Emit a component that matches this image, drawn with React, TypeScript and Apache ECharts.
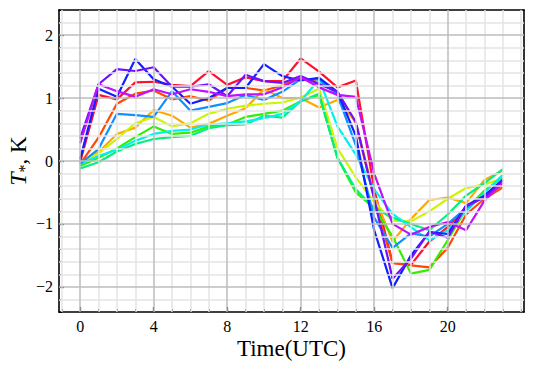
import React, { useEffect, useRef } from "react";
import * as echarts from "echarts";

const hours = Array.from({ length: 24 }, (_, i) => i);

const red = [-0.02, 1.05, 0.98, 1.25, 1.26, 1.21, 1.19, 1.43, 1.21, 1.33, 1.27, 1.27, 1.63, 1.42, 1.17, 1.28, -0.45, -1.62, -1.65, -1.28, -1.05, -0.75, -0.55, -0.38];
const orangeRed = [-0.05, 0.37, 0.91, 1.07, 1.12, 0.98, 1.03, 0.96, 1.16, 1.16, 1.12, 1.2, 1.33, 1.25, 1.1, 0.6, -0.6, -1.62, -1.66, -1.69, -1.38, -0.85, -0.6, -0.42];
const orange = [-0.05, 0.14, 0.43, 0.53, 0.81, 0.72, 0.53, 0.59, 0.72, 0.84, 1.14, 1.0, 1.0, 0.85, 0.97, 0.62, -0.55, -1.28, -0.92, -0.62, -0.58, -0.67, -0.3, -0.15];
const yellowGreen = [-0.03, 0.12, 0.35, 0.6, 0.7, 0.55, 0.6, 0.75, 0.83, 0.88, 0.91, 0.93, 1.01, 1.15, 0.2, -0.26, -0.65, -0.95, -0.96, -0.8, -0.6, -0.43, -0.37, -0.28];
const green = [-0.08, 0.05, 0.2, 0.38, 0.55, 0.43, 0.45, 0.55, 0.58, 0.7, 0.75, 0.8, 0.95, 1.05, 0.05, -0.5, -0.75, -1.2, -1.79, -1.73, -1.26, -0.76, -0.47, -0.26];
const springGreen = [-0.12, -0.02, 0.15, 0.27, 0.35, 0.38, 0.4, 0.52, 0.57, 0.58, 0.72, 0.69, 0.95, 1.07, 0.05, -0.45, -0.75, -0.9, -1.0, -1.1, -0.85, -0.55, -0.35, -0.13];
const cyan = [-0.05, 0.08, 0.18, 0.32, 0.43, 0.48, 0.5, 0.58, 0.6, 0.63, 0.68, 0.75, 0.95, 1.3, 0.55, 0.1, -0.45, -0.84, -1.05, -1.26, -1.1, -0.8, -0.5, -0.22];
const azure = [-0.04, 0.19, 0.75, 0.73, 0.7, 1.11, 0.8, 0.86, 0.92, 1.05, 0.97, 1.1, 1.3, 1.3, 1.05, 0.25, -0.9, -1.38, -1.15, -1.2, -1.0, -0.75, -0.55, -0.3];
const blue = [0.03, 1.15, 1.02, 1.62, 1.3, 1.18, 0.91, 1.0, 1.16, 1.16, 1.54, 1.35, 1.28, 1.32, 1.1, 0.4, -1.1, -2.02, -1.5, -1.13, -1.16, -0.71, -0.55, -0.3];
const violet = [0.36, 1.22, 1.46, 1.43, 1.49, 1.18, 1.18, 1.22, 1.03, 1.37, 1.27, 1.24, 1.35, 1.22, 1.1, 0.62, -0.6, -1.87, -1.55, -1.12, -1.22, -0.71, -0.58, -0.32];
const purple = [0.28, 1.22, 1.11, 1.02, 1.14, 1.06, 1.14, 1.1, 1.03, 1.06, 1.06, 1.17, 1.33, 1.17, 1.05, 1.02, -0.2, -1.0, -1.17, -1.05, -0.97, -1.1, -0.63, -0.34];

const seriesValues = [red, orangeRed, orange, yellowGreen, green, springGreen, cyan, azure, blue, violet, purple];
const seriesColors = ["#ff1030", "#ff4800", "#ffa800", "#ccf500", "#33ee00", "#00f080", "#00f0f0", "#1090ff", "#1020ff", "#7010ff", "#c010ff"];

const xMajorTicks = [0, 4, 8, 12, 16, 20];
const xMinorTicks = [-1, 1, 2, 3, 5, 6, 7, 9, 10, 11, 13, 14, 15, 17, 18, 19, 21, 22, 23, 24];
const yMajorTicks = [-2, -1, 0, 1, 2];
const yMinorTicks = [-2.4, -2.2, -1.8, -1.6, -1.4, -1.2, -0.8, -0.6, -0.4, -0.2, 0.2, 0.4, 0.6, 0.8, 1.2, 1.4, 1.6, 1.8, 2.2, 2.4];

const X_MIN = -1.15;
const X_MAX = 24.15;
const Y_MIN = -2.4;
const Y_MAX = 2.4;

const FONT = "'Liberation Serif', 'Times New Roman', 'DejaVu Serif', serif";

export default function App() {
  const ref = useRef<HTMLDivElement>(null);
  useEffect(() => {
    if (!ref.current) return;
    const chart = echarts.init(ref.current, undefined, { renderer: "svg" });
    const minorStyle = { color: "#e4e4e4", width: 1.5, type: "solid" };
    const majorStyle = { color: "#bcbcbc", width: 1.5, type: "solid" };
    const gridLines: any[] = [];
    xMinorTicks.forEach((v) => gridLines.push({ xAxis: v, lineStyle: minorStyle }));
    yMinorTicks.filter((v) => v > Y_MIN && v < Y_MAX).forEach((v) => gridLines.push({ yAxis: v, lineStyle: minorStyle }));
    xMajorTicks.forEach((v) => gridLines.push({ xAxis: v, lineStyle: majorStyle }));
    yMajorTicks.forEach((v) => gridLines.push({ yAxis: v, lineStyle: majorStyle }));

    const fmt = (v: number) => (v < 0 ? "\u2212" + Math.abs(v) : String(v));
    const baseX = { type: "value", min: X_MIN, max: X_MAX, splitLine: { show: false } };
    const baseY = { type: "value", min: Y_MIN, max: Y_MAX, splitLine: { show: false } };

    chart.setOption({
      animation: false,
      backgroundColor: "#ffffff",
      grid: { left: 59, right: 10, top: 10, bottom: 56, containLabel: false, outerBoundsMode: "none" },
      xAxis: [
        {
          ...baseX,
          position: "bottom",
          axisLine: { show: true, onZero: false, lineStyle: { color: "#000", width: 1.6 } },
          axisTick: { show: true, inside: true, length: 5, customValues: xMajorTicks, lineStyle: { color: "#000", width: 1.2 } },
          axisLabel: { show: true, customValues: xMajorTicks, color: "#000", fontFamily: FONT, fontSize: 16, margin: 6 },
          name: "Time(UTC)",
          nameLocation: "middle",
          nameGap: 25,
          nameMoveOverlap: false,
          nameTextStyle: { color: "#000", fontFamily: FONT, fontSize: 23 },
        },
        {
          ...baseX,
          position: "bottom",
          axisLine: { show: false, onZero: false },
          axisTick: { show: true, inside: true, length: 3, customValues: xMinorTicks, lineStyle: { color: "#000", width: 1 } },
          axisLabel: { show: false },
        },
        {
          ...baseX,
          position: "top",
          axisLine: { show: true, onZero: false, lineStyle: { color: "#000", width: 1.6 } },
          axisTick: { show: false },
          axisLabel: { show: false },
        },
      ],
      yAxis: [
        {
          ...baseY,
          position: "left",
          axisLine: { show: true, onZero: false, lineStyle: { color: "#000", width: 1.6 } },
          axisTick: { show: true, inside: true, length: 5, customValues: yMajorTicks, lineStyle: { color: "#000", width: 1.2 } },
          axisLabel: { show: true, customValues: yMajorTicks, formatter: fmt, color: "#000", fontFamily: FONT, fontSize: 16, margin: 6 },
          name: "{it|T}{sub|*}{n|, K}",
          nameLocation: "middle",
          nameRotate: 90,
          nameGap: 27,
          nameMoveOverlap: false,
          nameTextStyle: {
            color: "#000",
            fontFamily: FONT,
            fontSize: 23,
            rich: {
              it: { fontFamily: FONT, fontSize: 24, fontStyle: "italic", color: "#000", lineHeight: 28 },
              sub: { fontFamily: FONT, fontSize: 16, color: "#000", verticalAlign: "bottom", lineHeight: 16 },
              n: { fontFamily: FONT, fontSize: 23, color: "#000", lineHeight: 28 },
            },
          },
        },
        {
          ...baseY,
          position: "left",
          axisLine: { show: false, onZero: false },
          axisTick: { show: true, inside: true, length: 3, customValues: yMinorTicks, lineStyle: { color: "#000", width: 1 } },
          axisLabel: { show: false },
        },
        {
          ...baseY,
          position: "right",
          axisLine: { show: true, onZero: false, lineStyle: { color: "#000", width: 1.6 } },
          axisTick: { show: false },
          axisLabel: { show: false },
        },
      ],
      series: [
        {
          type: "line",
          data: [],
          silent: true,
          z: 1,
          markLine: { symbol: "none", silent: true, animation: false, label: { show: false }, data: gridLines },
        },
        ...seriesValues.map((vals, i) => ({
          type: "line",
          data: hours.map((h, j) => [h, vals[j]]),
          showSymbol: false,
          symbol: "none",
          z: 3,
          lineStyle: { color: seriesColors[i], width: 2.2 },
          itemStyle: { color: seriesColors[i] },
        })),
      ],
    });
    return () => chart.dispose();
  }, []);
  return <div ref={ref} style={{ position: "fixed", left: 0, top: 0, width: 534, height: 368 }} />;
}
